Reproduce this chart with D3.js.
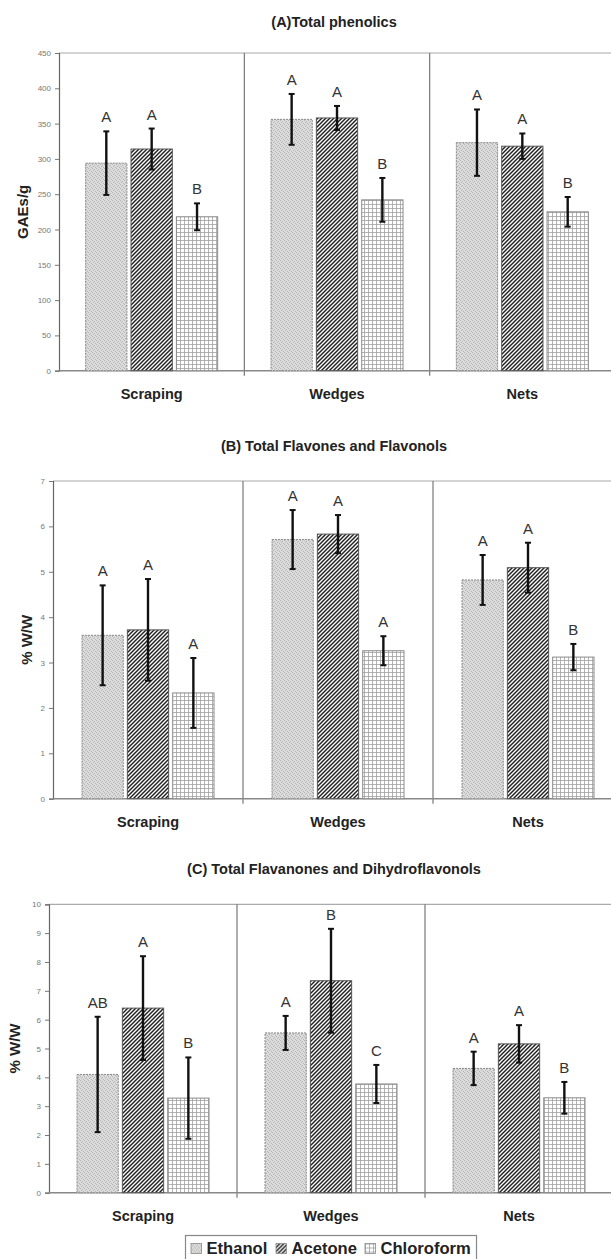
<!DOCTYPE html>
<html>
<head>
<meta charset="utf-8">
<script src="https://cdn.jsdelivr.net/npm/d3@7"></script>
<style>
  body { margin: 0; background: #fff; }
  svg { display: block; font-family: "Liberation Sans", Arial, sans-serif; }
</style>
</head>
<body>
<div id="chart"></div>
<script>
// data, rows = categories, columns = solvents
const categories = ["Scraping", "Wedges", "Nets"];
const solvents = ["Ethanol", "Acetone", "Chloroform"];

const phenolicsMean = [[294, 314, 218], [356, 358, 242], [323, 318, 225]];
const phenolicsErr = [[45, 29, 19], [36, 17, 31], [47, 18, 21]];
const phenolicsLetters = [["A", "A", "B"], ["A", "A", "B"], ["A", "A", "B"]];
const phenolicsTicks = [0, 50, 100, 150, 200, 250, 300, 350, 400, 450];

const flavonesMean = [[3.6, 3.72, 2.33], [5.71, 5.83, 3.26], [4.82, 5.09, 3.12]];
const flavonesErr = [[1.1, 1.12, 0.77], [0.65, 0.42, 0.32], [0.55, 0.55, 0.29]];
const flavonesLetters = [["A", "A", "A"], ["A", "A", "A"], ["A", "A", "B"]];
const flavonesTicks = [0, 1, 2, 3, 4, 5, 6, 7];

const flavanonesMean = [[4.1, 6.4, 3.28], [5.54, 7.35, 3.77], [4.31, 5.16, 3.29]];
const flavanonesErr = [[2.0, 1.8, 1.41], [0.59, 1.8, 0.66], [0.58, 0.65, 0.55]];
const flavanonesLetters = [["AB", "A", "B"], ["A", "B", "C"], ["A", "A", "B"]];
const flavanonesTicks = [0, 1, 2, 3, 4, 5, 6, 7, 8, 9, 10];

const width = 611, height = 1259;

const svg = d3.select("#chart")
  .append("svg")
  .attr("width", width)
  .attr("height", height);

//fill patterns for the three solvents
const defs = svg.append("defs");

const pEth = defs.append("pattern")
  .attr("id", "pEth")
  .attr("patternUnits", "userSpaceOnUse")
  .attr("width", 4).attr("height", 4);
pEth.append("rect").attr("width", 4).attr("height", 4).attr("fill", "#dcdcdc");
[[0, 0], [2, 1], [1, 2], [3, 3]].forEach(function (p) {
  pEth.append("rect").attr("x", p[0]).attr("y", p[1])
    .attr("width", 1).attr("height", 1).attr("fill", "#b4b4b4");
});

const pAce = defs.append("pattern")
  .attr("id", "pAce")
  .attr("patternUnits", "userSpaceOnUse")
  .attr("width", 4).attr("height", 4);
pAce.append("rect").attr("width", 4).attr("height", 4).attr("fill", "#fff");
pAce.append("path")
  .attr("d", "M-1,1 L1,-1 M0,4 L4,0 M3,5 L5,3")
  .attr("stroke", "#222")
  .attr("stroke-width", 1.5);

const pChl = defs.append("pattern")
  .attr("id", "pChl")
  .attr("patternUnits", "userSpaceOnUse")
  .attr("width", 4).attr("height", 4);
pChl.append("rect").attr("width", 4).attr("height", 4).attr("fill", "#fff");
pChl.append("path")
  .attr("d", "M0,0.5 H4 M0.5,0 V4")
  .attr("stroke", "#a0a0a0")
  .attr("stroke-width", 0.8);

const fills = d3.scaleOrdinal().domain(solvents).range(["url(#pEth)", "url(#pAce)", "url(#pChl)"]);
const borders = d3.scaleOrdinal().domain(solvents).range(["#8a8a8a", "#555", "#8a8a8a"]);

const panels = [
  { title: "(A)Total phenolics", ylabel: "GAEs/g", mean: phenolicsMean, err: phenolicsErr,
    letters: phenolicsLetters, ticks: phenolicsTicks,
    left: 59, right: 615, top: 53, bottom: 370.7, titleY: 27, ylabelX: 23 },
  { title: "(B) Total Flavones and Flavonols", ylabel: "% W/W", mean: flavonesMean, err: flavonesErr,
    letters: flavonesLetters, ticks: flavonesTicks,
    left: 53, right: 623, top: 481, bottom: 798.7, titleY: 451, ylabelX: 27 },
  { title: "(C) Total Flavanones and Dihydroflavonols", ylabel: "% W/W", mean: flavanonesMean, err: flavanonesErr,
    letters: flavanonesLetters, ticks: flavanonesTicks,
    left: 49, right: 613, top: 904.3, bottom: 1192.7, titleY: 874, ylabelX: 15 }
];

panels.forEach(function (p) {
  const g = svg.append("g");

  const x0 = d3.scaleBand().domain(categories).range([p.left, p.right]).padding(0);
  const groupW = 132;
  const x1 = d3.scaleBand().domain(solvents)
    .range([(x0.bandwidth() - groupW) / 2, (x0.bandwidth() + groupW) / 2])
    .paddingInner(0.09);
  const y = d3.scaleLinear()
    .domain([0, d3.max(p.ticks)])
    .range([p.bottom, p.top]);

  // title
  g.append("text")
    .attr("x", 334)
    .attr("y", p.titleY)
    .attr("text-anchor", "middle")
    .attr("font-size", 14.5)
    .attr("font-weight", "bold")
    .attr("fill", "#222")
    .text(p.title);

  // frame: top line and category separators
  g.append("line")
    .attr("x1", p.left).attr("x2", p.right)
    .attr("y1", p.top).attr("y2", p.top)
    .attr("stroke", "#aaa").attr("stroke-width", 1.2);

  g.selectAll(".sep")
    .data(categories.slice(1))
    .enter()
    .append("line")
    .attr("x1", function (d) { return x0(d); })
    .attr("x2", function (d) { return x0(d); })
    .attr("y1", p.top)
    .attr("y2", p.bottom + 5)
    .attr("stroke", "#777").attr("stroke-width", 1.2);

  // y axis
  const yAxis = d3.axisLeft(y)
    .tickValues(p.ticks)
    .tickSize(4)
    .tickPadding(4)
    .tickFormat(d3.format("d"));
  const ya = g.append("g")
    .attr("transform", "translate(" + p.left + ",0)")
    .call(yAxis);
  ya.select(".domain").attr("stroke", "#666").attr("stroke-width", 1.2);
  ya.selectAll(".tick line").attr("stroke", "#777");
  ya.selectAll(".tick text")
    .attr("font-size", 8)
    .attr("fill", "#777")
    .attr("font-family", "Liberation Sans, Arial, sans-serif");

  // bottom axis line
  g.append("line")
    .attr("x1", p.left).attr("x2", p.right)
    .attr("y1", p.bottom).attr("y2", p.bottom)
    .attr("stroke", "#888").attr("stroke-width", 1.4);

  // y label
  g.append("text")
    .attr("transform", "translate(" + p.ylabelX + "," + (p.top + p.bottom) / 2 + ") rotate(-90)")
    .attr("text-anchor", "middle")
    .attr("dy", "0.35em")
    .attr("font-size", 15)
    .attr("font-weight", "bold")
    .attr("fill", "#222")
    .text(p.ylabel);

  // category labels
  g.selectAll(".cat")
    .data(categories)
    .enter()
    .append("text")
    .attr("x", function (d) { return x0(d) + x0.bandwidth() / 2; })
    .attr("y", p.bottom + 28)
    .attr("text-anchor", "middle")
    .attr("font-size", 14.5)
    .attr("font-weight", "bold")
    .attr("fill", "#222")
    .text(function (d) { return d; });

  // flatten rows into bar records
  const bars = [];
  categories.forEach(function (c, i) {
    solvents.forEach(function (s, j) {
      bars.push({ cat: c, sol: s, v: p.mean[i][j], e: p.err[i][j], L: p.letters[i][j] });
    });
  });

  const bx = function (d) { return x0(d.cat) + x1(d.sol); };
  const cx = function (d) { return bx(d) + x1.bandwidth() / 2; };

  g.selectAll(".bar")
    .data(bars)
    .enter()
    .append("rect")
    .attr("x", bx)
    .attr("y", function (d) { return y(d.v); })
    .attr("width", x1.bandwidth())
    .attr("height", function (d) { return y(0) - y(d.v); })
    .attr("fill", function (d) { return fills(d.sol); })
    .attr("stroke", function (d) { return borders(d.sol); })
    .attr("stroke-width", 1)
    .attr("stroke-dasharray", function (d) { return d.sol === "Ethanol" ? "2,1" : null; });

  // error bars
  g.selectAll(".err")
    .data(bars)
    .enter()
    .append("line")
    .attr("x1", cx).attr("x2", cx)
    .attr("y1", function (d) { return y(d.v + d.e); })
    .attr("y2", function (d) { return y(d.v - d.e); })
    .attr("stroke", "#111").attr("stroke-width", 2.4);

  ["+", "-"].forEach(function (sign) {
    g.selectAll(".cap" + (sign === "+" ? "t" : "b"))
      .data(bars)
      .enter()
      .append("line")
      .attr("x1", function (d) { return cx(d) - 3; })
      .attr("x2", function (d) { return cx(d) + 3; })
      .attr("y1", function (d) { return y(sign === "+" ? d.v + d.e : d.v - d.e); })
      .attr("y2", function (d) { return y(sign === "+" ? d.v + d.e : d.v - d.e); })
      .attr("stroke", "#111").attr("stroke-width", 2);
  });

  // significance letters
  g.selectAll(".letter")
    .data(bars)
    .enter()
    .append("text")
    .attr("x", cx)
    .attr("y", function (d) { return y(d.v + d.e) - 9; })
    .attr("text-anchor", "middle")
    .attr("font-size", 15)
    .attr("fill", "#333")
    .text(function (d) { return d.L; });
});

// legend
const legend = svg.append("g");
legend.append("rect")
  .attr("x", 185.5).attr("y", 1235.5)
  .attr("width", 291).attr("height", 30)
  .attr("fill", "#fff")
  .attr("stroke", "#888").attr("stroke-width", 1.2);

const legX = d3.scaleOrdinal().domain(solvents).range([191, 276, 365]);

const items = legend.selectAll(".item")
  .data(solvents)
  .enter()
  .append("g")
  .attr("transform", function (d) { return "translate(" + legX(d) + ",1243.5)"; });

items.append("rect")
  .attr("width", 10.5).attr("height", 10)
  .attr("fill", function (d) { return fills(d); })
  .attr("stroke", "#888").attr("stroke-width", 0.8);

items.append("text")
  .attr("x", 15.5)
  .attr("y", 10.5)
  .attr("font-size", 16.6)
  .attr("font-weight", "bold")
  .attr("fill", "#222")
  .text(function (d) { return d; });
</script>
</body>
</html>
